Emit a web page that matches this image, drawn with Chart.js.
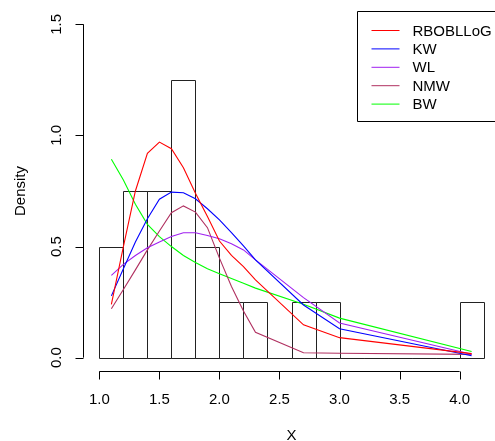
<!DOCTYPE html>
<html>
<head>
<meta charset="utf-8">
<script src="https://cdn.jsdelivr.net/npm/chart.js@4.4.1/dist/chart.umd.min.js"></script>
<style>
  html, body { margin: 0; padding: 0; overflow: hidden; background: #fff; }
  canvas { display: block; }
</style>
</head>
<body>
<canvas id="densChart" width="505" height="441"></canvas>
<script>
// histogram: bin mid-points (width 0.2) and densities
const binMids = [1.1, 1.3, 1.5, 1.7, 1.9, 2.1, 2.3, 2.5, 2.7, 2.9, 3.1, 3.3, 3.5, 3.7, 3.9, 4.1];
const binDensity = [0.5, 0.75, 0.75, 1.25, 0.5, 0.25, 0.25, 0, 0.25, 0.25, 0, 0, 0, 0, 0, 0.25];

// fitted densities evaluated at the sorted sample values
const xs = [1.1, 1.2, 1.3, 1.4, 1.5, 1.6, 1.7, 1.8, 1.9, 2.0, 2.1, 2.2, 2.3, 2.7, 3.0, 4.1];
const rboblloG = [0.24, 0.50, 0.75, 0.92, 0.97, 0.94, 0.855, 0.74, 0.635, 0.525, 0.46, 0.41, 0.35, 0.148, 0.09, 0.018];
const kw = [0.278, 0.40, 0.52, 0.625, 0.713, 0.745, 0.742, 0.715, 0.67, 0.62, 0.563, 0.503, 0.44, 0.237, 0.13, 0.009];
const wl = [0.37, 0.42, 0.46, 0.495, 0.52, 0.545, 0.562, 0.562, 0.55, 0.535, 0.513, 0.485, 0.44, 0.27, 0.156, 0.015];
const nmw = [0.22, 0.307, 0.395, 0.485, 0.57, 0.652, 0.683, 0.655, 0.585, 0.448, 0.32, 0.21, 0.114, 0.022, 0.02, 0.015];
const bw = [0.893, 0.80, 0.69, 0.60, 0.545, 0.50, 0.46, 0.428, 0.40, 0.378, 0.356, 0.335, 0.313, 0.24, 0.178, 0.028];

const xTicks = [1.0, 1.5, 2.0, 2.5, 3.0, 3.5, 4.0];
const yTicks = [0.0, 0.5, 1.0, 1.5];

const FONT = '15px "Liberation Sans", Arial, sans-serif';

// R-style 4% range extension
const xLo = 1.0, xHi = 4.2, yLo = 0, yHi = 1.5;
const xPad = (xHi - xLo) * 0.04, yPad = (yHi - yLo) * 0.04;

function curve(label, vals, color) {
  return {
    type: 'line',
    label: label,
    data: xs.map((x, i) => ({ x: x, y: vals[i] })),
    borderColor: color,
    borderWidth: 1.1,
    pointRadius: 0,
    tension: 0,
    fill: false
  };
}

// histogram outlines: shared edges like rect() in R, zero bins drawn flat
const histOutline = {
  id: 'histOutline',
  beforeDatasetsDraw(chart) {
    const { ctx } = chart;
    const idx = chart.data.datasets.findIndex(d => d.type === 'bar');
    const meta = chart.getDatasetMeta(idx);
    ctx.save();
    ctx.strokeStyle = '#222';
    ctx.lineWidth = 1;
    ctx.beginPath();
    meta.data.forEach(bar => {
      const p = bar.getProps(['x', 'y', 'base', 'width'], true);
      const l = Math.round(p.x - p.width / 2) + 0.5;
      const r = Math.round(p.x + p.width / 2) + 0.5;
      const t = Math.round(p.y) + 0.5;
      const b = Math.round(p.base) + 0.5;
      ctx.rect(l, t, r - l, b - t);
    });
    ctx.stroke();
    ctx.restore();
  }
};

// axes, titles and legend drawn the way base R graphics does
const rStyle = {
  id: 'rStyle',
  afterDraw(chart) {
    const { ctx, chartArea: a, scales: { x, y } } = chart;
    ctx.save();
    ctx.strokeStyle = '#000';
    ctx.fillStyle = '#000';
    ctx.lineWidth = 1;
    ctx.font = FONT;

    // x axis
    const xb = Math.round(a.bottom) + 0.5;
    ctx.beginPath();
    ctx.moveTo(x.getPixelForValue(xTicks[0]), xb);
    ctx.lineTo(x.getPixelForValue(xTicks[xTicks.length - 1]), xb);
    xTicks.forEach(v => {
      const px = Math.round(x.getPixelForValue(v)) + 0.5;
      ctx.moveTo(px, xb);
      ctx.lineTo(px, xb + 8);
    });
    ctx.stroke();
    ctx.textAlign = 'center';
    ctx.textBaseline = 'middle';
    xTicks.forEach(v => ctx.fillText(v.toFixed(1), x.getPixelForValue(v), xb + 28));
    ctx.fillText('X', (a.left + a.right) / 2, xb + 64);

    // y axis
    const yl = Math.round(a.left) - 0.5;
    ctx.beginPath();
    ctx.moveTo(yl, y.getPixelForValue(yTicks[0]));
    ctx.lineTo(yl, y.getPixelForValue(yTicks[yTicks.length - 1]));
    yTicks.forEach(v => {
      const py = Math.round(y.getPixelForValue(v)) + 0.5;
      ctx.moveTo(yl, py);
      ctx.lineTo(yl - 8, py);
    });
    ctx.stroke();
    yTicks.forEach(v => {
      ctx.save();
      ctx.translate(yl - 27, y.getPixelForValue(v));
      ctx.rotate(-Math.PI / 2);
      ctx.fillText(v.toFixed(1), 0, 0);
      ctx.restore();
    });
    ctx.save();
    ctx.translate(yl - 63, (a.top + a.bottom) / 2);
    ctx.rotate(-Math.PI / 2);
    ctx.fillText('Density', 0, 0);
    ctx.restore();

    // legend box in the top-right corner
    const lines = chart.data.datasets.filter(d => d.type === 'line');
    const boxL = Math.round(a.right - 142) + 0.5, boxT = Math.round(a.top) + 0.5;
    const rowH = 18.4;
    ctx.beginPath();
    ctx.rect(boxL, boxT, a.right - boxL, 110);
    ctx.stroke();
    ctx.textAlign = 'left';
    lines.forEach((d, i) => {
      const ry = boxT + 19 + i * rowH;
      ctx.strokeStyle = d.borderColor;
      ctx.beginPath();
      ctx.moveTo(boxL + 14, ry);
      ctx.lineTo(boxL + 42, ry);
      ctx.stroke();
      ctx.fillText(d.label, boxL + 55, ry + 1);
    });
    ctx.restore();
  }
};

new Chart(document.getElementById('densChart'), {
  type: 'bar',
  data: {
    datasets: [
      curve('RBOBLLoG', rboblloG, '#FF0000'),
      curve('KW', kw, '#0000FF'),
      curve('WL', wl, '#A020F0'),
      curve('NMW', nmw, '#B03060'),
      curve('BW', bw, '#00FF00'),
      {
        type: 'bar',
        label: 'hist',
        data: binMids.map((m, i) => ({ x: m, y: binDensity[i] })),
        backgroundColor: 'rgba(0,0,0,0)',
        borderWidth: 0,
        barPercentage: 1,
        categoryPercentage: 1
      }
    ]
  },
  options: {
    responsive: false,
    animation: false,
    layout: { padding: { left: 84, right: 6, top: 11, bottom: 70 } },
    plugins: { legend: { display: false }, tooltip: { enabled: false } },
    scales: {
      x: {
        type: 'linear',
        display: false,
        offset: false,
        min: xLo - xPad,
        max: xHi + xPad,
        ticks: { stepSize: 0.5, includeBounds: false }
      },
      y: {
        type: 'linear',
        display: false,
        min: yLo - yPad,
        max: yHi + yPad,
        ticks: { stepSize: 0.5, includeBounds: false }
      }
    }
  },
  plugins: [histOutline, rStyle]
});
</script>
</body>
</html>
